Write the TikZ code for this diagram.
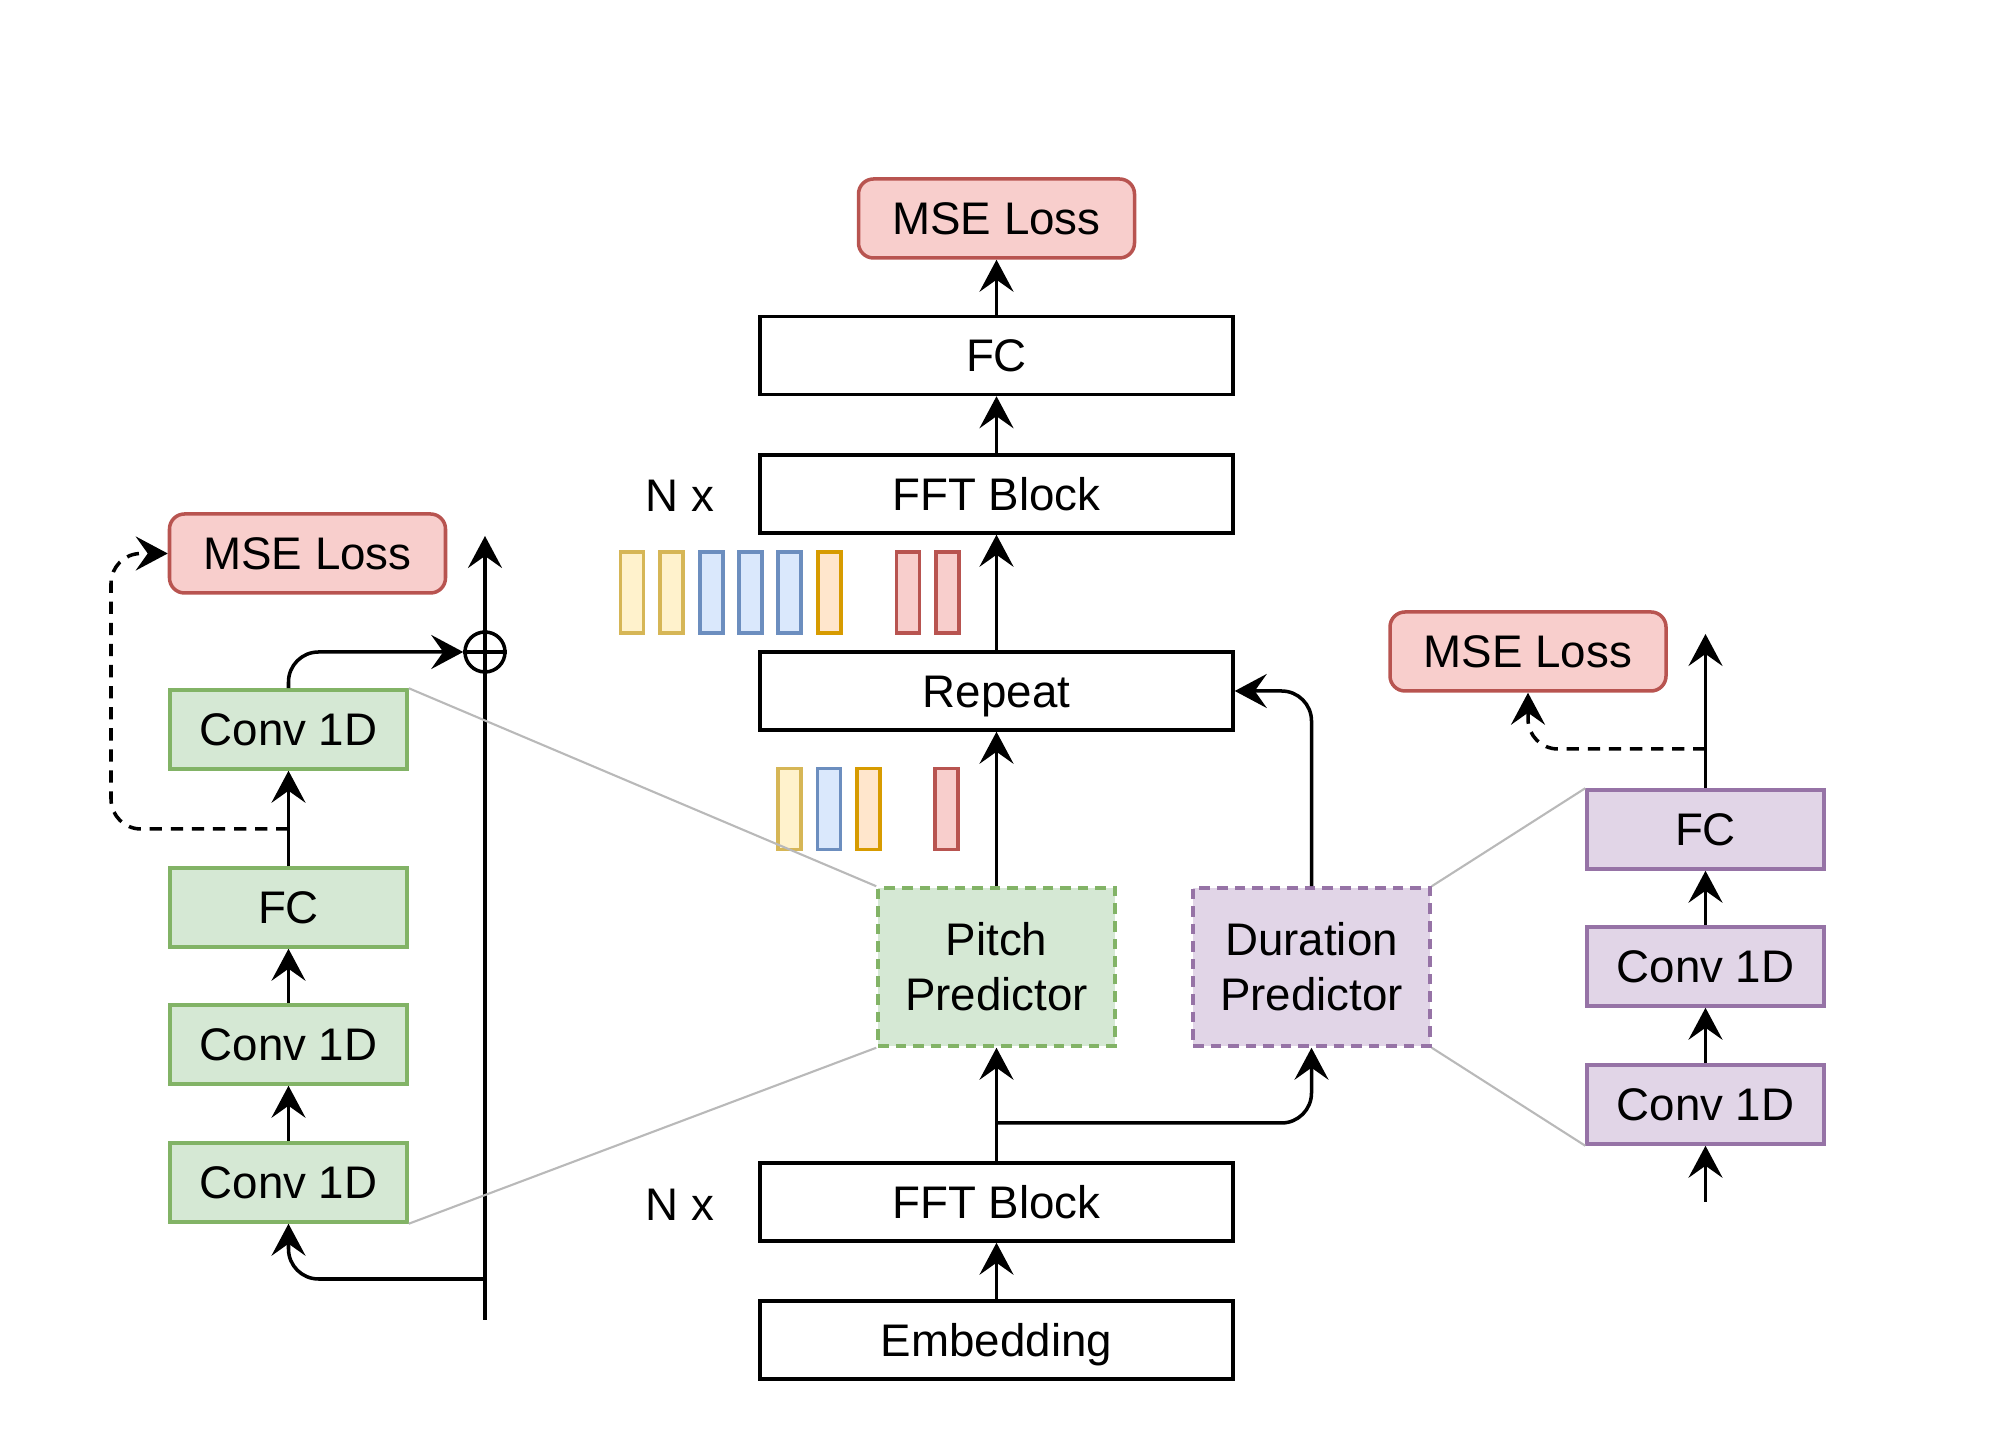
\documentclass[tikz,border=0pt]{standalone}
\usepackage{fontspec}
\setmainfont{Liberation Sans}
\usepackage{tikz}
\usetikzlibrary{arrows.meta}
\usepackage{xcolor}
\definecolor{lossfill}{HTML}{F8CECC}
\definecolor{lossdraw}{HTML}{B85450}
\definecolor{grnfill}{HTML}{D5E8D4}
\definecolor{grndraw}{HTML}{82B366}
\definecolor{purfill}{HTML}{E1D5E7}
\definecolor{purdraw}{HTML}{9673A6}
\definecolor{yelfill}{HTML}{FFF2CC}
\definecolor{yeldraw}{HTML}{D6B656}
\definecolor{blufill}{HTML}{DAE8FC}
\definecolor{bludraw}{HTML}{6C8EBF}
\definecolor{orafill}{HTML}{FFE6CC}
\definecolor{oradraw}{HTML}{D79B00}
\definecolor{redfill}{HTML}{F8CECC}
\definecolor{reddraw}{HTML}{B85450}

\begin{document}
\begin{tikzpicture}[font=\fontsize{13}{15.6}\selectfont, line width=1pt,
    >={Stealth[length=3.2mm, width=3.4mm, inset=1.2mm]},
    label text/.style={text height=9.3pt, text depth=0pt},
    block/.style={draw, label text, minimum width=4.73cm, minimum height=0.78cm, inner sep=0pt},
    loss/.style={draw=lossdraw, fill=lossfill, label text, rounded corners=1.5mm, minimum width=2.76cm, minimum height=0.79cm, inner sep=0pt},
    grnbox/.style={draw=grndraw, fill=grnfill, label text, minimum width=2.37cm, minimum height=0.79cm, inner sep=0pt},
    purbox/.style={draw=purdraw, fill=purfill, label text, minimum width=2.37cm, minimum height=0.79cm, inner sep=0pt},
    predictor/.style={fill=#1fill, draw=#1draw, dash pattern=on 3pt off 2pt, minimum width=2.37cm, minimum height=1.58cm, align=center, inner sep=0pt},
    bar/.style={draw=#1draw, fill=#1fill, minimum width=0.23cm, minimum height=0.81cm, inner sep=0pt},
    dashline/.style={dash pattern=on 3.5pt off 2.5pt},
    zoomline/.style={draw=gray!55, line width=0.6pt}]
       \useasboundingbox (0cm, 0cm) rectangle (20cm, 14.55cm);

       % main column
       \node[block] (emb)  at ( 9.965cm,  1.15cm) {Embedding};
       \node[block] (fft1) at ( 9.965cm,  2.53cm) {FFT Block};
       \node[predictor=grn] (pitch) at ( 9.965cm, 4.88cm) {Pitch\\Predictor};
       \node[predictor=pur] (dur)   at (13.115cm, 4.88cm) {Duration\\Predictor};
       \node[block] (rep)  at ( 9.965cm,  7.64cm) {Repeat};
       \node[block] (fft2) at ( 9.965cm,  9.61cm) {FFT Block};
       \node[block] (fc)   at ( 9.965cm, 10.995cm) {FC};
       \node[loss]  (loss) at ( 9.965cm, 12.365cm) {MSE Loss};
       \node[label text] (nx1) at (6.80cm, 2.51cm) {N x};
       \node[label text] (nx2) at (6.80cm, 9.60cm) {N x};

       \foreach \x/\c [count=\i] in {6.32/yel, 6.715/yel, 7.115/blu, 7.505/blu, 7.895/blu, 8.295/ora, 9.08/red, 9.475/red}
          \node[bar=\c] (top\i) at (\x cm, 8.625cm) {};
       \foreach \x/\c [count=\i] in {7.895/yel, 8.29/blu, 8.685/ora, 9.465/red}
          \node[bar=\c] (low\i) at (\x cm, 6.46cm) {};

       \draw[->] (emb) -- (fft1);
       \draw[->] (fft1) -- (pitch);
       \draw[->] (pitch) -- (rep);
       \draw[->] (rep) -- (fft2);
       \draw[->] (fft2) -- (fc);
       \draw[->] (fc) -- (loss);
       \coordinate (br) at (9.965cm, 3.32cm);
       \draw[->, rounded corners=0.3cm] (br) -| (dur.south);
       \draw[->, rounded corners=0.3cm] (dur.north) |- (rep.east);

       % pitch predictor detail
       \node[grnbox] (gc1) at (2.885cm, 2.725cm) {Conv 1D};
       \node[grnbox] (gc2) at (2.885cm, 4.105cm) {Conv 1D};
       \node[grnbox] (gfc) at (2.885cm, 5.475cm) {FC};
       \node[grnbox] (gc3) at (2.885cm, 7.255cm) {Conv 1D};
       \node[loss]   (gloss) at (3.075cm, 9.015cm) {MSE Loss};
       \node[circle, draw, inner sep=0pt, minimum size=0.4cm] (plus) at (4.85cm, 8.03cm) {};
       \coordinate (rbot) at (4.85cm, 1.35cm);
       \coordinate (rin)  at (4.85cm, 1.76cm);
       \coordinate (rtop) at (4.85cm, 9.19cm);
       \coordinate (gtap) at (2.885cm, 6.26cm);
       \coordinate (gleft) at (1.11cm, 6.26cm);

       \draw[->] (rbot) -- (rtop);
       \draw (plus.west) -- (plus.east);
       \draw[->, rounded corners=0.3cm] (rin) -| (gc1.south);
       \draw[->] (gc1) -- (gc2);
       \draw[->] (gc2) -- (gfc);
       \draw[->] (gfc) -- (gc3);
       \draw[->, rounded corners=0.3cm] (gc3.north) |- (plus.west);
       \draw[->, dashline, rounded corners=0.3cm] (gtap) -- (gleft) |- (gloss.west);

       % duration predictor detail
       \node[purbox] (pc1) at (17.055cm, 3.505cm) {Conv 1D};
       \node[purbox] (pc2) at (17.055cm, 4.885cm) {Conv 1D};
       \node[purbox] (pfc) at (17.055cm, 6.255cm) {FC};
       \node[loss]   (ploss) at (15.28cm, 8.035cm) {MSE Loss};
       \coordinate (pin)  at (17.055cm, 2.53cm);
       \coordinate (pout) at (17.055cm, 8.21cm);
       \coordinate (ptap) at (17.055cm, 7.06cm);

       \draw[->] (pin) -- (pc1);
       \draw[->] (pc1) -- (pc2);
       \draw[->] (pc2) -- (pfc);
       \draw[->] (pfc) -- (pout);
       \draw[->, dashline, rounded corners=0.3cm] (ptap) -| (ploss.south);

       % zoom lines
       \draw[zoomline] (gc3.north east) -- (pitch.north west);
       \draw[zoomline] (gc1.south east) -- (pitch.south west);
       \draw[zoomline] (dur.north east) -- (pfc.north west);
       \draw[zoomline] (dur.south east) -- (pc1.south west);
\end{tikzpicture}
\end{document}
